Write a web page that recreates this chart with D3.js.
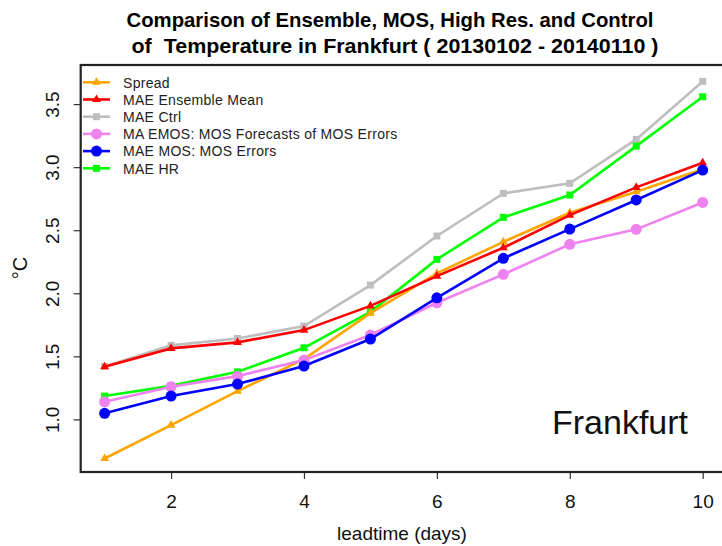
<!DOCTYPE html>
<html>
<head>
<meta charset="utf-8">
<script src="https://cdn.jsdelivr.net/npm/d3@7"></script>
<style>
  body { margin: 0; background: #fff; }
  svg { display: block; font-family: "Liberation Sans", Arial, sans-serif; }
</style>
</head>
<body>
<svg class="chart"></svg>
<script>
// leadtime in days
const DAYS = [1, 2, 3, 4, 5, 6, 7, 8, 9, 10];

// values (°C)
const SPREAD    = [0.69, 0.955, 1.224, 1.478, 1.843, 2.158, 2.408, 2.638, 2.805, 2.983];
const MAE_ENS   = [1.417, 1.563, 1.611, 1.708, 1.90, 2.136, 2.361, 2.62, 2.84, 3.035];
const MAE_CTRL  = [1.42, 1.587, 1.642, 1.74, 2.065, 2.454, 2.792, 2.872, 3.22, 3.68];
const MA_EMOS   = [1.14, 1.259, 1.343, 1.47, 1.669, 1.925, 2.15, 2.388, 2.507, 2.72];
const MAE_MOS   = [1.048, 1.185, 1.28, 1.423, 1.637, 1.964, 2.277, 2.509, 2.74, 2.977];
const MAE_HR    = [1.185, 1.266, 1.377, 1.568, 1.853, 2.269, 2.602, 2.779, 3.167, 3.558];

const X_TICKS = [2, 4, 6, 8, 10];
const Y_TICKS = [1.0, 1.5, 2.0, 2.5, 3.0, 3.5];

const SERIES = [
    { name: "Spread", values: SPREAD, color: "#FFA500", shape: "triangle" },
    { name: "MAE Ensemble Mean", values: MAE_ENS, color: "#FF0000", shape: "triangle" },
    { name: "MAE Ctrl", values: MAE_CTRL, color: "#BEBEBE", shape: "square" },
    { name: "MA EMOS: MOS Forecasts of MOS Errors", values: MA_EMOS, color: "#EE82EE", shape: "circle" },
    { name: "MAE MOS: MOS Errors", values: MAE_MOS, color: "#0000FF", shape: "circle" },
    { name: "MAE HR", values: MAE_HR, color: "#00FF00", shape: "square" },
];
// drawing order of the lines
const DRAW_ORDER = [2, 5, 0, 1, 3, 4];

const WIDTH = 722, HEIGHT = 546;
const PLOT = { left: 80.7, right: 726.6, top: 65, bottom: 472 };
const FONT = "Liberation Sans, Arial, sans-serif";

const CHART = d3.select(".chart").attr("width", WIDTH).attr("height", HEIGHT);

const X_fxn = d3.scaleLinear().domain([0.64, 10.36]).range([PLOT.left, PLOT.right]);
const Y_fxn = d3.scaleLinear().domain([0.583, 3.810]).range([PLOT.bottom, PLOT.top]);

const line_fxn = d3.line()
    .x((d, i) => X_fxn(DAYS[i]))
    .y(d => Y_fxn(d));

function marker(sel, shape, color) {
    if (shape === "circle") {
        sel.append("circle").attr("r", 5.5).attr("fill", color);
    } else if (shape === "square") {
        sel.append("rect").attr("x", -3.5).attr("y", -3.5).attr("width", 7).attr("height", 7).attr("fill", color);
    } else {
        sel.append("path").attr("d", d3.symbol(d3.symbolTriangle, 34)()).attr("fill", color);
    }
}

// title
CHART.append("text").attr("x", 390).attr("y", 27).attr("text-anchor", "middle")
    .attr("font-size", 21).attr("font-weight", "bold")
    .attr("textLength", 527).attr("lengthAdjust", "spacingAndGlyphs")
    .text("Comparison of Ensemble, MOS, High Res. and Control");
CHART.append("text").attr("x", 395).attr("y", 53).attr("text-anchor", "middle")
    .attr("font-size", 21).attr("font-weight", "bold")
    .attr("textLength", 527).attr("lengthAdjust", "spacingAndGlyphs")
    .attr("xml:space", "preserve")
    .text("of  Temperature in Frankfurt ( 20130102 - 20140110 )");

// series
CHART.append("clipPath").attr("id", "plotclip")
    .append("rect").attr("x", PLOT.left).attr("y", PLOT.top)
    .attr("width", PLOT.right - PLOT.left).attr("height", PLOT.bottom - PLOT.top);

const plotG = CHART.append("g").attr("clip-path", "url(#plotclip)");
DRAW_ORDER.forEach(k => {
    const s = SERIES[k];
    plotG.append("path").datum(s.values).attr("d", line_fxn)
        .attr("fill", "none").attr("stroke", s.color).attr("stroke-width", 2.6);
    s.values.forEach((v, i) => {
        const g = plotG.append("g").attr("transform", `translate(${X_fxn(DAYS[i])},${Y_fxn(v)})`);
        marker(g, s.shape, s.color);
    });
});

// legend
const LEG_X = 83, LEG_Y = 82.3, LEG_DY = 17.2;
SERIES.forEach((s, i) => {
    const y = LEG_Y + i * LEG_DY;
    CHART.append("line").attr("x1", LEG_X).attr("x2", 110).attr("y1", y).attr("y2", y)
        .attr("stroke", s.color).attr("stroke-width", 2.6);
    const g = CHART.append("g").attr("transform", `translate(${(LEG_X + 110) / 2},${y})`);
    marker(g, s.shape, s.color);
    CHART.append("text").attr("x", 123).attr("y", y + 5.2)
        .attr("font-size", 14).attr("letter-spacing", 0.3).attr("fill", "#222").text(s.name);
});

// "Frankfurt" label
CHART.append("text").attr("x", 552).attr("y", 434).attr("font-size", 34).attr("fill", "#111")
    .text("Frankfurt");

// axes
const xAxis = CHART.append("g").attr("transform", `translate(0,${PLOT.bottom})`)
    .call(d3.axisBottom(X_fxn).tickValues(X_TICKS).tickSize(7).tickPadding(16).tickFormat(d3.format("d")));
xAxis.select(".domain").remove();
xAxis.selectAll("text").attr("font-size", 19).attr("fill", "#111").attr("font-family", FONT);
xAxis.selectAll("line").attr("stroke", "#333").attr("stroke-width", 1.2);

const yAxis = CHART.append("g").attr("transform", `translate(${PLOT.left},0)`)
    .call(d3.axisLeft(Y_fxn).tickValues(Y_TICKS).tickSize(7).tickFormat(d3.format(".1f")));
yAxis.select(".domain").remove();
yAxis.selectAll("line").attr("stroke", "#333").attr("stroke-width", 1.2);
yAxis.selectAll("text").remove();
yAxis.selectAll(".tick").append("text")
    .attr("transform", "translate(-22,0) rotate(-90)")
    .attr("text-anchor", "middle").attr("font-size", 19).attr("fill", "#111")
    .attr("font-family", FONT)
    .text(d => d3.format(".1f")(d));

// box
CHART.append("rect").attr("x", PLOT.left).attr("y", PLOT.top)
    .attr("width", PLOT.right - PLOT.left).attr("height", PLOT.bottom - PLOT.top)
    .attr("fill", "none").attr("stroke", "#222").attr("stroke-width", 2.2);

// axis labels
CHART.append("text").attr("x", 402).attr("y", 540).attr("text-anchor", "middle")
    .attr("font-size", 19).attr("fill", "#111").text("leadtime (days)");
CHART.append("text").attr("transform", "translate(27,268) rotate(-90)").attr("text-anchor", "middle")
    .attr("font-size", 20).attr("fill", "#111").text("°C");
</script>
</body>
</html>
